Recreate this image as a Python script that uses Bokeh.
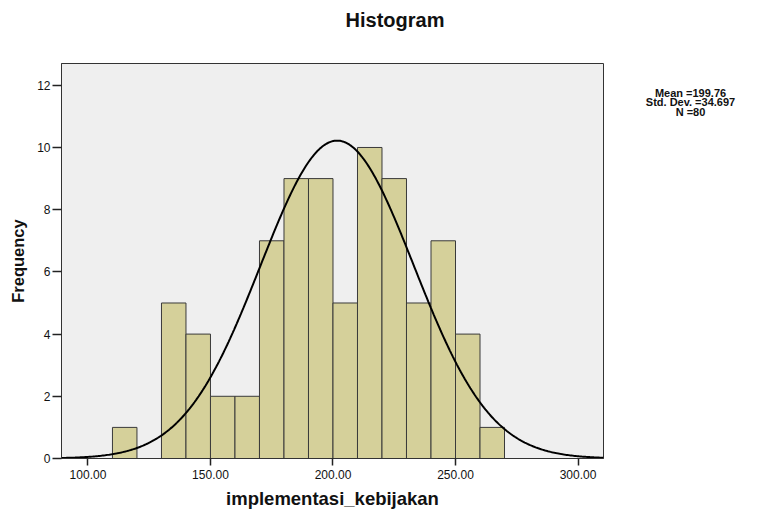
import numpy as np
from bokeh.plotting import figure
from bokeh.layouts import column, row
from bokeh.models import Range1d, FixedTicker, NumeralTickFormatter
from bokeh.core.properties import value
from bokeh.embed import file_html
from bokeh.resources import INLINE

# Histogram data (bin edges of width 10, counts)
bin_left = [110, 120, 130, 140, 150, 160, 170, 180, 190, 200, 210, 220, 230, 240, 250, 260]
bin_right = [120, 130, 140, 150, 160, 170, 180, 190, 200, 210, 220, 230, 240, 250, 260, 270]
counts = [1, 0, 5, 4, 2, 2, 7, 9, 9, 5, 10, 9, 5, 7, 4, 1]

# Normal curve as drawn (parameters)
curve_mean = 201.7
curve_sd = 31.3
curve_peak = 10.22

x_ticks = [100, 150, 200, 250, 300]
y_ticks = [0, 2, 4, 6, 8, 10, 12]

title_text = "Histogram"
x_label = "implementasi_kebijakan"
y_label = "Frequency"
stats_lines = ["Mean =199.76", "Std. Dev. =34.697", "N =80"]

FONT = "Liberation Sans"
TXT = "#111111"


def blank_fig(w, h, xr, yr):
    f = figure(width=w, height=h, output_backend="svg", toolbar_location=None,
               x_range=xr, y_range=yr, x_axis_location=None, y_axis_location=None,
               min_border=0)
    f.min_border_left = f.min_border_right = f.min_border_top = f.min_border_bottom = 0
    f.outline_line_color = None
    f.grid.visible = False
    f.background_fill_color = "white"
    f.border_fill_color = "white"
    return f


# ---- title strip ----
top = blank_fig(755, 63, Range1d(0, 755), Range1d(63, 0))
top.text(x=[394.5], y=[19], text=[title_text], text_font=value(FONT), text_font_style="bold",
         text_font_size="20px", text_align="center", text_baseline="middle", text_color=TXT)

# ---- main histogram ----
p = figure(width=605, height=448, output_backend="svg", toolbar_location=None,
           x_range=Range1d(89.2, 310.4), y_range=Range1d(0, 12.7),
           min_border_left=61, min_border_right=2, min_border_top=0, min_border_bottom=53)
p.background_fill_color = "#efefef"
p.border_fill_color = "white"
p.outline_line_color = "#333333"
p.outline_line_width = 1
p.grid.visible = False

p.quad(left=bin_left, right=bin_right, bottom=0, top=counts,
       fill_color="#d5d09a", line_color="#3a3a3a", line_width=1)

xs = np.linspace(89.2, 310.4, 400)
ys = curve_peak * np.exp(-0.5 * ((xs - curve_mean) / curve_sd) ** 2)
p.line(xs, ys, line_color="black", line_width=2)

for ax in (p.xaxis[0], p.yaxis[0]):
    ax.axis_line_color = "#333333"
    ax.major_tick_line_color = "#222222"
    ax.major_tick_line_width = 1.5
    ax.major_tick_in = 0
    ax.minor_tick_line_color = None
    ax.major_label_text_font = FONT
    ax.major_label_text_font_size = "12px"
    ax.major_label_text_color = TXT
    ax.axis_label_text_font = FONT
    ax.axis_label_text_font_style = "bold"
    ax.axis_label_text_color = TXT

p.xaxis.ticker = FixedTicker(ticks=x_ticks)
p.xaxis.formatter = NumeralTickFormatter(format="0.00")
p.xaxis.axis_label = x_label
p.xaxis.major_tick_out = 7
p.xaxis.major_label_standoff = 4
p.xaxis.axis_label_standoff = 6
p.xaxis.axis_label_text_font_size = "18.5px"

p.yaxis.ticker = FixedTicker(ticks=y_ticks)
p.yaxis.axis_label = y_label
p.yaxis.major_tick_out = 9
p.yaxis.major_label_standoff = 2
p.yaxis.axis_label_standoff = 7
p.yaxis.axis_label_text_font_size = "16.5px"

# ---- side strip with statistics ----
side = blank_fig(150, 448, Range1d(0, 150), Range1d(448, 0))
side.text(x=[85, 85, 85], y=[33, 44, 54.5], text=stats_lines, text_font=value(FONT),
          text_font_style="bold", text_font_size="11px", text_align="center",
          text_baseline="middle", text_color=TXT)

layout = column(top, row(p, side, spacing=0), spacing=0)
open("out.html", "w").write(file_html(layout, INLINE))
